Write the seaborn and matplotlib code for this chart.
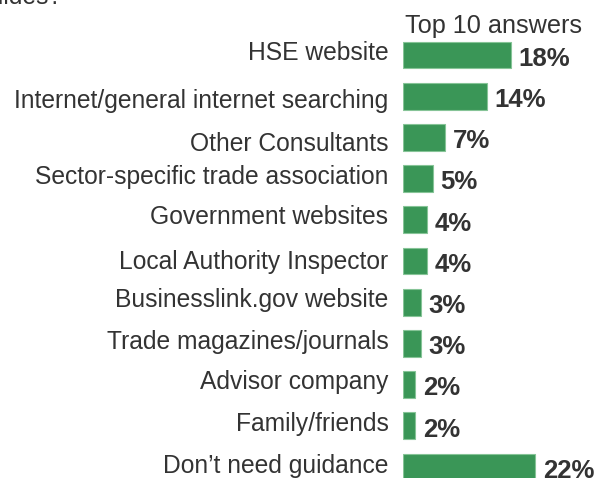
import matplotlib
matplotlib.use("Agg")
import matplotlib.pyplot as plt
import matplotlib.transforms as mtransforms
import seaborn as sns
import pandas as pd

sources = [
    "HSE website",
    "Internet/general internet searching",
    "Other Consultants",
    "Sector-specific trade association",
    "Government websites",
    "Local Authority Inspector",
    "Businesslink.gov website",
    "Trade magazines/journals",
    "Advisor company",
    "Family/friends",
    "Don\u2019t need guidance",
]
share_pct = [18, 14, 7, 5, 4, 4, 3, 3, 2, 2, 22]

# small vertical nudges (pixels, + = down) for the category labels
label_nudge_px = [-5, 2.5, 4.5, -4, -5, -1, -4.5, -4, -5, -4, -3]

sns.set_theme(style="white")
plt.rcParams["font.family"] = ["Liberation Sans", "DejaVu Sans"]

W, H, DPI = 595, 478, 100
fig = plt.figure(figsize=(W / DPI, H / DPI), dpi=DPI)

row_px = 41.2
first_px = 55.0
ax = fig.add_axes([403 / W, 0, 1 - 403 / W, 1])

df = pd.DataFrame({"source": sources, "pct": share_pct})
sns.barplot(data=df, x="pct", y="source", orient="h", color="#3a9657",
            saturation=1, width=0.65, edgecolor="#86c497", linewidth=0.8, ax=ax)

ax.set_xlim(0, (W - 403) / 6.0)
ax.set_ylim((H - first_px) / row_px, -first_px / row_px)
ax.set_xlabel("")
ax.set_ylabel("")
ax.set_xticks([])
for s in ax.spines.values():
    s.set_visible(False)

ax.tick_params(axis="y", length=0, pad=10.5, labelsize=17.75, labelcolor="#333333")
for lab, dy in zip(ax.get_yticklabels(), label_nudge_px):
    lab.set_transform(lab.get_transform() +
                      mtransforms.ScaledTranslation(0, -dy / DPI, fig.dpi_scale_trans))

for i, v in enumerate(share_pct):
    ax.annotate(f"{v}%", xy=(v, i), xytext=(5.5, -7.8), textcoords="offset points",
                ha="left", va="baseline", fontsize=18.5, fontweight="bold",
                color="#333333", annotation_clip=False)

fig.text(405 / W, 1 - 33 / H, "Top 10 answers", ha="left", va="baseline",
         fontsize=18.2, color="#333333")
fig.text(62 / W, 1 - 4 / H, "guides?", ha="right", va="baseline",
         fontsize=17.75, color="#333333")

fig.savefig("out.png", dpi=DPI)
